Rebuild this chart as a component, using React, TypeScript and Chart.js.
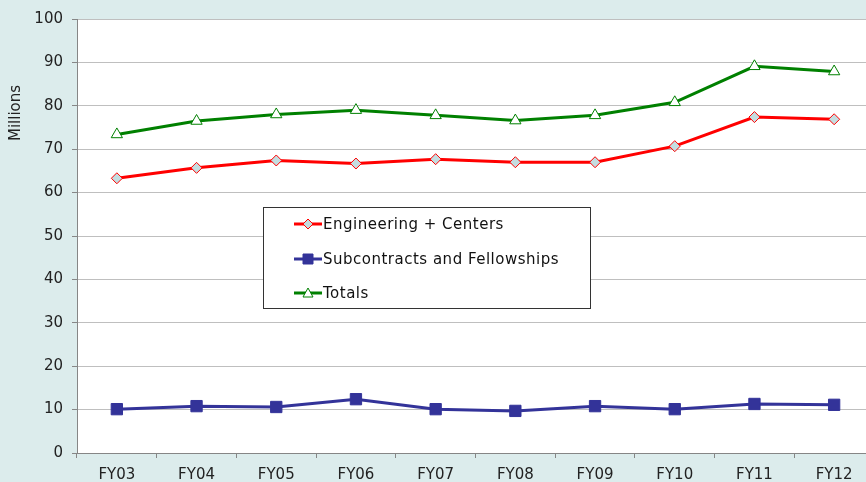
import React, { useEffect, useRef } from "react";
import { Chart, registerables } from "chart.js";

Chart.register(...registerables);

const categories = ["FY03", "FY04", "FY05", "FY06", "FY07", "FY08", "FY09", "FY10", "FY11", "FY12"];
const engineering = [63.3, 65.7, 67.4, 66.7, 67.7, 67.0, 67.0, 70.7, 77.4, 76.9];
const subcontracts = [10.1, 10.8, 10.6, 12.4, 10.1, 9.7, 10.8, 10.1, 11.3, 11.1];
const totals = [73.4, 76.5, 78.0, 79.0, 77.8, 76.6, 77.8, 80.8, 89.1, 87.9];
const seriesLabels = ["Engineering + Centers", "Subcontracts and Fellowships", "Totals"];
const yAxisTitle = "Millions";

const FONT = "'DejaVu Sans', Verdana, sans-serif";
const BG = "#dcecec";

function drawMarker(ctx: CanvasRenderingContext2D, style: string, x: number, y: number, r: number, fill: string, stroke: string) {
  ctx.save();
  ctx.fillStyle = fill;
  ctx.strokeStyle = stroke;
  ctx.lineWidth = 1;
  ctx.beginPath();
  if (style === "rectRot") {
    ctx.moveTo(x, y - r);
    ctx.lineTo(x + r, y);
    ctx.lineTo(x, y + r);
    ctx.lineTo(x - r, y);
    ctx.closePath();
  } else if (style === "rect") {
    ctx.rect(x - r, y - r, 2 * r, 2 * r);
  } else {
    ctx.moveTo(x, y - r);
    ctx.lineTo(x + r, y + r * 0.8);
    ctx.lineTo(x - r, y + r * 0.8);
    ctx.closePath();
  }
  ctx.fill();
  ctx.stroke();
  ctx.restore();
}

const backgroundPlugin = {
  id: "bgPlugin",
  beforeDraw(chart: any) {
    const { ctx, chartArea } = chart;
    ctx.save();
    ctx.fillStyle = BG;
    ctx.fillRect(0, 0, chart.width, chart.height);
    ctx.fillStyle = "#ffffff";
    ctx.fillRect(chartArea.left, chartArea.top, chartArea.right - chartArea.left, chartArea.bottom - chartArea.top);
    ctx.restore();
  },
  afterDraw(chart: any) {
    const ctx = chart.ctx;
    ctx.save();
    ctx.translate(16, 113);
    ctx.rotate(-Math.PI / 2);
    ctx.font = `15px ${FONT}`;
    ctx.fillStyle = "#222";
    ctx.textAlign = "center";
    ctx.textBaseline = "middle";
    ctx.fillText(yAxisTitle, 0, 0);
    ctx.restore();
  },
};

const legendPlugin = {
  id: "insideLegend",
  afterDatasetsDraw(chart: any) {
    const ctx = chart.ctx;
    ctx.save();
    ctx.fillStyle = "#ffffff";
    ctx.fillRect(263.5, 207.5, 327, 101);
    ctx.strokeStyle = "#333333";
    ctx.lineWidth = 1;
    ctx.strokeRect(263.5, 207.5, 327, 101);
    const rows = [224, 259, 293];
    chart.data.datasets.forEach((ds: any, i: number) => {
      const y = rows[i];
      ctx.strokeStyle = ds.borderColor;
      ctx.lineWidth = 3;
      ctx.beginPath();
      ctx.moveTo(294, y);
      ctx.lineTo(322, y);
      ctx.stroke();
      drawMarker(ctx, ds.pointStyle, 308, y, 5, ds.pointBackgroundColor, ds.pointBorderColor);
      ctx.font = `15px ${FONT}`;
      (ctx as any).letterSpacing = "0.5px";
      ctx.fillStyle = "#111";
      ctx.textAlign = "left";
      ctx.textBaseline = "middle";
      ctx.fillText(ds.label, 323, y + 1);
      (ctx as any).letterSpacing = "0px";
    });
    ctx.restore();
  },
};

export default function App() {
  const ref = useRef<HTMLCanvasElement>(null);
  useEffect(() => {
    if (!ref.current) return;
    const chart = new Chart(ref.current, {
      type: "line",
      data: {
        labels: categories,
        datasets: [
          {
            label: seriesLabels[0],
            data: engineering,
            borderColor: "#ff0000",
            borderWidth: 3,
            pointStyle: "rectRot",
            pointRadius: 5.5,
            pointBackgroundColor: "#c4dde0",
            pointBorderColor: "#ff0000",
            pointBorderWidth: 1,
            tension: 0,
          },
          {
            label: seriesLabels[1],
            data: subcontracts,
            borderColor: "#333399",
            borderWidth: 3,
            pointStyle: "rect",
            pointRadius: 8,
            pointBackgroundColor: "#333399",
            pointBorderColor: "#333399",
            pointBorderWidth: 1,
            tension: 0,
          },
          {
            label: seriesLabels[2],
            data: totals,
            borderColor: "#008000",
            borderWidth: 3,
            pointStyle: "triangle",
            pointRadius: 6.5,
            pointBackgroundColor: "#ffffff",
            pointBorderColor: "#008000",
            pointBorderWidth: 1,
            tension: 0,
          },
        ],
      } as any,
      options: {
        responsive: false,
        animation: false,
        devicePixelRatio: 1,
        layout: { autoPadding: false, padding: { top: 19, right: 6, left: 0, bottom: 0 } },
        plugins: { legend: { display: false }, tooltip: { enabled: false } },
        scales: {
          x: {
            offset: true,
            grid: { offset: true, drawOnChartArea: false, drawTicks: true, tickLength: 5, tickColor: "#868686" },
            border: { color: "#868686", width: 1 },
            ticks: { font: { family: FONT, size: 15 }, color: "#222", padding: 8, maxRotation: 0 },
            afterFit(scale: any) {
              scale.height = 29;
            },
          },
          y: {
            min: 0,
            max: 100,
            ticks: { stepSize: 10, font: { family: FONT, size: 15 }, color: "#222", padding: 9 },
            grid: { color: "#bfbfbf", tickLength: 5, tickColor: "#868686" },
            border: { color: "#868686", width: 1 },
            afterFit(scale: any) {
              scale.width = 77;
            },
          },
        },
      } as any,
      plugins: [backgroundPlugin, legendPlugin],
    });
    return () => chart.destroy();
  }, []);
  return (
    <div style={{ position: "fixed", left: 0, top: 0, width: 866, height: 482, overflow: "hidden", background: BG }}>
      <canvas ref={ref} width={880} height={482} style={{ display: "block" }} />
    </div>
  );
}
